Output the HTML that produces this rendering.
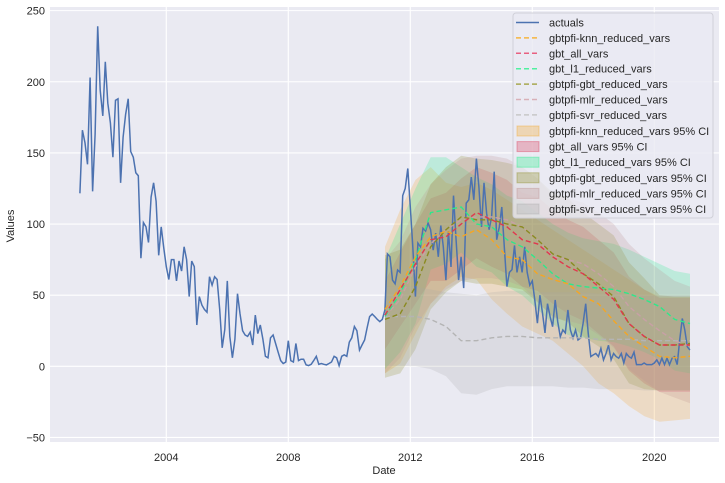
<!DOCTYPE html>
<html><head><meta charset="utf-8"><style>
html,body{margin:0;padding:0;background:#fff;}
svg{display:block;font-family:"Liberation Sans",Arial,sans-serif;}
</style></head><body>
<svg id="chart" width="725" height="483" viewBox="0 0 725 483" xmlns="http://www.w3.org/2000/svg">
<rect x="50" y="7" width="669" height="435" fill="#eaeaf2"/>
<g id="grid"></g>
<g id="bands"></g>
<g id="lines"></g>
<g id="ticks"></g>
<text x="384" y="474" font-size="11" fill="#262626" text-anchor="middle">Date</text>
<text x="14" y="226" font-size="11" fill="#262626" text-anchor="middle" transform="rotate(-90 14 226)">Values</text>
<g id="legend"></g>
</svg>
<script>
const actualStart = 2001 + 2/12;
const actuals = [121.6,166,157,142,203,123,163,239,194,176,214,185,171,147,187,188,129,161,177,188,151,147,136,134,76,101,98,87,119,129,116,78,98,83,70,61,75,75,60,74,67,84,75,49,74,70,29,49,43,40,38,63,57,63,61,40,13,26,60,21,6,19,51,37,25,22,21,24,15,36,23,29,19,7,6,20,22,16,10,4,2,3,18,4,3,16,4,5,5,1,0.5,1.4,4,7,1.4,2,1.4,1,2,3,7,6,0.5,7,8,7,17,20,28,25,
11.4,15,18.5,27,34.9,36.7,35,33,31.4,33,39.6,79,77,60.6,58,67.7,66,120,125,139,112,84,49,86.6,84,97,95,100.7,96,81.7,93.6,77,99,84,60.6,95,69.8,120,88.8,60.6,77,55,114.7,117,133,117,146,126,98,129,107.6,96,105,136.8,89,98,112,84,56,66,68,85,66,77,66,84,66,57,60,46.6,30.3,50,37.4,23.5,44,35,27.8,46.6,31.4,20.8,25.5,23.5,39.6,25.5,19.9,25.5,18.5,19.9,30.3,44,23.5,6.8,8,9,6.8,12.6,4.5,9,14.8,4.5,9,6.8,5.7,9,2.3,9,6.8,5.7,10,1.2,1.2,1.2,2.3,1.2,1.2,1.2,2.3,4.5,1.2,5.7,1.2,5.7,1.2,5.7,6.8,1.2,18.5,33.6,25.5,13.8,11.4];
const fcStart = 2011.17;
const fcStep = 0.5;
const knnMean = [40,56,77,91,95,91,96,89,77,75,65,61,58,49,44,32,21,14,7,6,7];
const knnHi = [84,110,131,140,129,126,129,124,117,110,103,96,89,82,75,68,61,54,49,49,49];
const knnLo = [-5,2,23,44,56,63,61,47,37,28,23,18,9,0,-12,-19,-28,-35,-39,-38,-37];
const allMean = [36,54,72,89,91,100,108,103,98,89,86,77,70,65,56,47,30,21,15,15,15];
const allHi = [60,80,100,118,122,132,140,136,131,122,119,110,103,98,89,80,63,54,48,48,48];
const allLo = [12,28,44,60,60,68,76,70,65,56,53,44,37,32,23,14,-3,-12,-18,-18,-18];
const l1Mean = [35,51,75,108,110,112,100,98,89,84,75,65,58,56,55,54,51,47,42,33,30];
const l1Hi = [75,100,125,147,147,140,133,128,120,116,108,100,94,90,88,86,82,77,72,67,65];
const l1Lo = [-2,10,30,68,72,80,70,66,56,50,40,30,22,20,18,17,14,10,5,-3,-5];
const gbtMean = [33,37,56,84,96,105,103,103,100,98,89,79,75,65,58,49,30,21,15,15,16];
const gbtHi = [78,82,100,128,140,148,146,145,143,140,132,122,118,108,100,92,73,62,50,49,49];
const gbtLo = [-8,-5,12,40,52,60,58,58,56,54,45,35,31,21,14,5,-12,-16,-17,-17,-17];
const mlrMean = [35,47,70,86,96,103,105,105,103,98,89,77,75,72,65,56,42,33,25,18,14];
const mlrHi = [75,88,112,128,138,146,148,148,146,140,132,120,118,115,108,100,86,76,68,60,56];
const mlrLo = [-5,6,28,44,54,60,62,62,60,56,46,34,32,29,22,13,-2,-10,-18,-22,-26];
const svrMean = [35,35,35,33,28,18,18,20,21,21,20,20,20,20,19,19,19,18,18,18,18];
const svrHi = [56,56,56,54,52,51,50,52,53,53,52,52,52,52,51,51,51,50,50,50,50];
const svrLo = [0,0,0,-2,-7,-19,-20,-16,-14,-14,-14,-14,-15,-15,-16,-16,-16,-17,-17,-17,-17];
const yTicks = [-50,0,50,100,150,200,250];
const xTicks = [2004,2008,2012,2016,2020];

const NS="http://www.w3.org/2000/svg";
const xS = y => 166.3 + (y-2004)*30.5;
const yS = v => 366.3 - v*1.4227;
function mk(tag, attrs, parent){const e=document.createElementNS(NS,tag);for(const k in attrs)e.setAttribute(k,attrs[k]);parent.appendChild(e);return e;}
const grid=document.getElementById('grid'), ticks=document.getElementById('ticks');
yTicks.forEach(v=>{
  const l=mk('line',{x1:50,x2:719,y1:yS(v),y2:yS(v),stroke:'#fff','stroke-width':1.1},grid);
  
  
  const t=mk('text',{x:45,y:yS(v)+4,'font-size':11,fill:'#262626','text-anchor':'end'},ticks);
  
  
  t.textContent=v<0?'\u2212'+(-v):v;
});
xTicks.forEach(v=>{
  const l=mk('line',{x1:xS(v),x2:xS(v),y1:7,y2:442,stroke:'#fff','stroke-width':1.1},grid);
  
  
  const t=mk('text',{x:xS(v),y:461,'font-size':11,fill:'#262626','text-anchor':'middle'},ticks);
  
  
  t.textContent=v;
});
const fx = i => xS(fcStart + i*fcStep);
const series = [
  {n:'knn',mean:knnMean,hi:knnHi,lo:knnLo,c:'#f5a623',f:'#f5a623'},
  {n:'gbt-all',mean:allMean,hi:allHi,lo:allLo,c:'#e0384e',f:'#dc3a5a'},
  {n:'gbt-l1',mean:l1Mean,hi:l1Hi,lo:l1Lo,c:'#2ee88a',f:'#22ee88'},
  {n:'gbtpfi-gbt',mean:gbtMean,hi:gbtHi,lo:gbtLo,c:'#8a8a20',f:'#8a8a20'},
  {n:'mlr',mean:mlrMean,hi:mlrHi,lo:mlrLo,c:'#c8a0a6',f:'#bc8f8f'},
  {n:'svr',mean:svrMean,hi:svrHi,lo:svrLo,c:'#b4b4b4',f:'#a9a9a9'}
];
const bands=document.getElementById('bands'), lines=document.getElementById('lines');
series.forEach(s=>{
  let d='M'+s.hi.map((v,i)=>fx(i).toFixed(1)+','+yS(v).toFixed(1)).join('L');
  for(let i=s.lo.length-1;i>=0;i--) d+='L'+fx(i).toFixed(1)+','+yS(s.lo[i]).toFixed(1);
  const p=mk('path',{d:d+'Z',fill:s.f,'fill-opacity':0.22,stroke:'none'},bands);
  
  
});
const act=mk('polyline',{points:actuals.map((v,i)=>xS(actualStart+i/12).toFixed(1)+','+yS(v).toFixed(1)).join(' '),fill:'none',stroke:'#4c72b0','stroke-width':1.5},lines);


series.slice().reverse().forEach(s=>{
  const p=mk('polyline',{points:s.mean.map((v,i)=>fx(i).toFixed(1)+','+yS(v).toFixed(1)).join(' '),fill:'none',stroke:s.c,'stroke-width':1.4,'stroke-dasharray':'5,3'},lines);
  
  
});
const lg=document.getElementById('legend');
mk('rect',{x:513,y:13,width:200,height:205,rx:3,fill:'#eaeaf2','fill-opacity':0.8,stroke:'#d0d0d8'},lg);
const labels=['actuals','gbtpfi-knn_reduced_vars','gbt_all_vars','gbt_l1_reduced_vars','gbtpfi-gbt_reduced_vars','gbtpfi-mlr_reduced_vars','gbtpfi-svr_reduced_vars'];
const lcol=['#4c72b0','#f5b540','#e86080','#50f0a0','#a8a850','#d8b0b8','#c8c8c8'];
labels.forEach((t,i)=>{
  const y=22.5+i*15.4;
  const ln=mk('line',{x1:516,x2:539,y1:y,y2:y,stroke:lcol[i],'stroke-width':1.5,'stroke-dasharray':i?'5,3':'none'},lg);
  
  
  const tx=mk('text',{x:549,y:y+4,'font-size':11,fill:'#262626'},lg);
  
  
  tx.textContent=t;
});
const ciLabels=labels.slice(1);
series.forEach((s,i)=>{
  const y=131+i*15.6;
  const r=mk('rect',{x:517,y:y-5,width:22,height:10,fill:s.f,'fill-opacity':0.3,stroke:s.f,'stroke-opacity':0.4},lg);
  
  
  const tx=mk('text',{x:549,y:y+4,'font-size':11,fill:'#262626'},lg);
  
  
  tx.textContent=ciLabels[i]+' 95% CI';
});
</script>
</body></html>
